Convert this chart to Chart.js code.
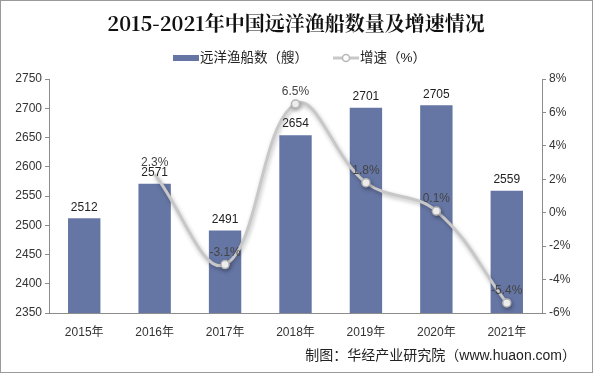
<!DOCTYPE html>
<html><head><meta charset="utf-8">
<script src="https://cdn.jsdelivr.net/npm/chart.js@4/dist/chart.umd.min.js"></script>
<style>html,body{margin:0;padding:0;background:#fff}#w{width:593px;height:373px;position:relative}</style>
</head><body><div id="w"><canvas id="c" width="593" height="373"></canvas></div>
<script>
const categories = ['2015年','2016年','2017年','2018年','2019年','2020年','2021年'];
const vessels = [2512, 2571, 2491, 2654, 2701, 2705, 2559];
const growth = [null, 2.3, -3.1, 6.5, 1.8, 0.1, -5.4];
const growthLabels = ['', '2.3%', '-3.1%', '6.5%', '1.8%', '0.1%', '-5.4%'];
const titleText = '2015-2021年中国远洋渔船数量及增速情况';
const barLegend = '远洋渔船数（艘）';
const lineLegend = '增速（%）';
const sourceText = '制图：华经产业研究院（www.huaon.com）';

const FONT = '"Liberation Sans", Arial, "Noto Sans CJK SC", sans-serif';
const BAR = '#6676a4';
const LINE = '#c8c8c8';

const deco = {
  id: 'deco',
  beforeDatasetDraw(chart, args) {
    if (args.index === 0) {
      const ctx = chart.ctx;
      ctx.save();
      ctx.shadowColor = 'rgba(0,0,0,0.28)';
      ctx.shadowBlur = 4; ctx.shadowOffsetX = 1; ctx.shadowOffsetY = 2;
    }
  },
  afterDatasetDraw(chart, args) {
    if (args.index === 0) chart.ctx.restore();
  },
  afterDraw(chart) {
    const ctx = chart.ctx;
    ctx.save();
    ctx.strokeStyle = '#9a9a9a'; ctx.lineWidth = 1;
    ctx.strokeRect(0.5, 0.5, 592, 372);
    ctx.fillStyle = '#111';
    ctx.font = 'bold 20px "Noto Serif CJK SC", "DejaVu Serif", "Noto Sans CJK SC", serif';
    ctx.textAlign = 'center'; ctx.textBaseline = 'middle';
    ctx.fillText(titleText, 296, 23);
    ctx.font = '13.5px ' + FONT;
    ctx.textAlign = 'left';
    ctx.fillStyle = BAR;
    ctx.fillRect(173, 55, 26, 6);
    ctx.fillStyle = '#222';
    ctx.fillText(barLegend, 200, 58);
    ctx.strokeStyle = LINE; ctx.lineWidth = 3;
    ctx.beginPath(); ctx.moveTo(333, 58); ctx.lineTo(359, 58); ctx.stroke();
    ctx.beginPath(); ctx.arc(346, 58, 3.5, 0, Math.PI*2);
    ctx.fillStyle = '#fff'; ctx.fill(); ctx.lineWidth = 1.5; ctx.strokeStyle = '#b8b8b8'; ctx.stroke();
    ctx.fillStyle = '#222';
    ctx.fillText(lineLegend, 360, 58);
    ctx.font = '14px ' + FONT;
    ctx.textAlign = 'right';
    ctx.fillText(sourceText, 576, 356);
    ctx.font = '12px ' + FONT;
    ctx.textAlign = 'center'; ctx.textBaseline = 'bottom';
    ctx.fillStyle = '#222';
    chart.getDatasetMeta(1).data.forEach((el, i) => {
      ctx.fillText(String(vessels[i]), el.x, el.y - 5);
    });
    ctx.fillStyle = '#444';
    chart.getDatasetMeta(0).data.forEach((el, i) => {
      if (growth[i] === null) return;
      ctx.fillText(growthLabels[i], el.x, el.y - 6);
    });
    ctx.restore();
  }
};

new Chart(document.getElementById('c'), {
  data: {
    labels: categories,
    datasets: [
      { type: 'line', label: lineLegend, data: growth, yAxisID: 'y1', order: 0,
        borderColor: LINE, borderWidth: 3, tension: 0.4, spanGaps: false,
        pointRadius: [0, 0, 4, 4, 4, 4, 4], pointBackgroundColor: '#fff', pointBorderColor: '#b5b5b5', pointBorderWidth: 1.5 },
      { type: 'bar', label: barLegend, data: vessels, yAxisID: 'y', order: 1,
        backgroundColor: BAR, categoryPercentage: 1, barPercentage: 0.46 }
    ]
  },
  options: {
    responsive: false, animation: false,
    layout: { padding: { top: 79, bottom: 35, left: 0, right: 0 } },
    plugins: { legend: { display: false }, title: { display: false }, tooltip: { enabled: false } },
    scales: {
      x: {
        grid: { display: false },
        border: { display: true, color: '#8c8c8c' },
        ticks: { color: '#333', font: { size: 12, family: FONT }, padding: 4 },
        afterFit(s) { s.height = 25; }
      },
      y: {
        position: 'left', min: 2350, max: 2750,
        ticks: { stepSize: 50, color: '#333', font: { size: 12, family: FONT }, padding: 3,
          callback: v => String(v) },
        grid: { drawOnChartArea: false, drawTicks: true, tickLength: 4, color: '#8c8c8c' },
        border: { display: true, color: '#8c8c8c' },
        afterFit(s) { s.width = 49; }
      },
      y1: {
        position: 'right', min: -6, max: 8,
        ticks: { stepSize: 2, color: '#333', font: { size: 12, family: FONT }, padding: 3,
          callback: v => v + '%' },
        grid: { drawOnChartArea: false, drawTicks: true, tickLength: 4, color: '#8c8c8c' },
        border: { display: true, color: '#8c8c8c' },
        afterFit(s) { s.width = 51; }
      }
    }
  },
  plugins: [deco]
});
</script></body></html>
